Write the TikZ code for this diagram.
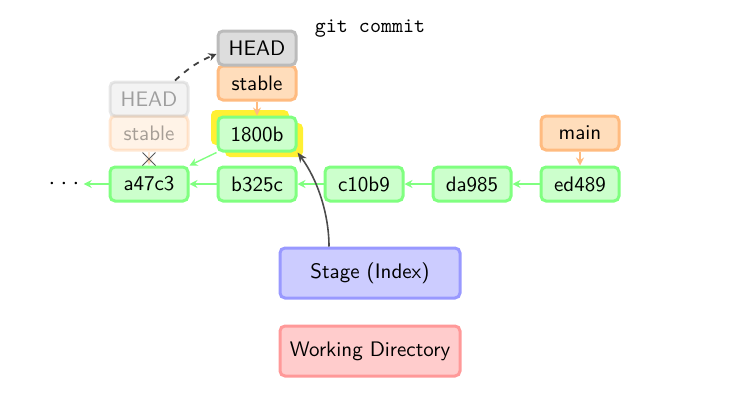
\documentclass[tikz,border=0pt]{standalone}
\usepackage{fontspec}
\usetikzlibrary{arrows.meta,shapes.misc}
\renewcommand{\familydefault}{\sfdefault}
\definecolor{cfill}{HTML}{CCFFCC}
\definecolor{cdraw}{HTML}{80FF80}
\definecolor{bfill}{HTML}{FFDDBB}
\definecolor{bdraw}{HTML}{FFBB80}
\definecolor{hfill}{HTML}{DDDDDD}
\definecolor{hdraw}{HTML}{BBBBBB}
\definecolor{sfill}{HTML}{CCCCFF}
\definecolor{sdraw}{HTML}{9999FF}
\definecolor{wfill}{HTML}{FFCCCC}
\definecolor{wdraw}{HTML}{FF9999}
\definecolor{hl}{HTML}{FFF033}
\tikzset{
  box/.style={rectangle, rounded corners=2.5pt, line width=1.5pt, minimum width=39pt, minimum height=17pt, inner sep=0pt, font=\sffamily\fontsize{10.5}{12}\selectfont},
  commit/.style={box, fill=cfill, draw=cdraw},
  branch/.style={box, fill=bfill, draw=bdraw},
  headbox/.style={box, fill=hfill, draw=hdraw},
  area/.style={box, minimum width=90pt, minimum height=25pt},
  parent/.style={draw=cdraw, line width=0.7pt, -{Stealth[length=4pt,width=4pt]}},
  bref/.style={draw=bdraw, line width=0.7pt, -{Stealth[length=4pt,width=4pt]}},
  faded/.style={opacity=0.35},
}
\begin{document}
\begin{tikzpicture}[x=0.5pt,y=-0.5pt]
\useasboundingbox (0,0) rectangle (750,402);
% highlight behind 1800b
\fill[hl, rounded corners=2.5pt] (211,110) rectangle (289,145);
\fill[hl, rounded corners=2.5pt] (225,123) rectangle (303,157);
% commits
\node[commit] (c1800b) at (257,134) {1800b};
\node[commit] (a47c3) at (149,184) {a47c3};
\node[commit] (b325c) at (257,184) {b325c};
\node[commit] (c10b9) at (364,184) {c10b9};
\node[commit] (da985) at (472,184) {da985};
\node[commit] (ed489) at (580,184) {ed489};
\node[font=\large, inner sep=2pt] (dots) at (64,184) {$\cdot\,\!\cdot\,\!\cdot$};
% branches
\node[branch] (main) at (580,133) {main};
\node[branch] (stable) at (257,83) {stable};
\node[headbox] (head) at (257,48) {HEAD};
\node[branch, faded] (ostable) at (149,133) {stable};
\node[headbox, faded] (ohead) at (149,99) {HEAD};
% areas
\node[area, fill=sfill, draw=sdraw] (stage) at (370,273) {Stage (Index)};
\node[area, fill=wfill, draw=wdraw] (wd) at (370,351) {Working Directory};
\node[font=\ttfamily\fontsize{10.5}{12}\selectfont] (cmd) at (370,29) {git commit};
% parent links
\draw[parent] (a47c3) -- (dots);
\draw[parent] (b325c) -- (a47c3);
\draw[parent] (c10b9) -- (b325c);
\draw[parent] (da985) -- (c10b9);
\draw[parent] (ed489) -- (da985);
\draw[parent] (c1800b.south west) -- (a47c3.north east);
% branch refs
\draw[bref] (stable) -- (c1800b);
\draw[bref] (main) -- (ed489);
\draw[bref, faded] (ostable) -- (a47c3);
\node[cross out, draw=black!65, line width=0.5pt, minimum size=6pt, inner sep=0pt] (cross) at (149,159) {};
% HEAD move
\coordinate (hfrom) at ([xshift=13pt]ohead.north);
\draw[black!75, dashed, line width=0.9pt, -{Stealth[length=4pt,width=4pt]}] (hfrom) to[bend left=10] ([yshift=-3pt]head.west);
% stage commit arrow
\coordinate (sfrom) at ([xshift=-20.5pt]stage.north);
\draw[black!70, line width=0.8pt, -{Stealth[length=5pt,width=4pt]}] (sfrom) .. controls (329,215) and (318,180) .. (c1800b.south east);
\end{tikzpicture}
\end{document}
